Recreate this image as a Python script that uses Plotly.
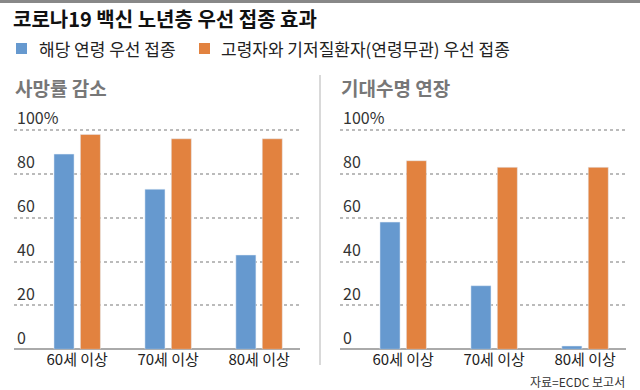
import plotly.graph_objects as go

categories = ["60세 이상", "70세 이상", "80세 이상"]
series_names = ["해당 연령 우선 접종", "고령자와 기저질환자(연령무관) 우선 접종"]
death_same_age = [89, 73, 43]
death_priority = [98, 96, 96]
life_same_age = [58, 29, 1.5]
life_priority = [86, 83, 83]
tick_vals = [0, 20, 40, 60, 80, 100]
tick_labels = ["0", "20", "40", "60", "80", "100%"]

BLUE = "#6699CF"
ORANGE = "#E2823F"
FONT = "Noto Sans CJK KR"

fig = go.Figure()
fig.add_trace(go.Bar(x=categories, y=death_same_age, name=series_names[0],
                     marker_color=BLUE, xaxis="x", yaxis="y"))
fig.add_trace(go.Bar(x=categories, y=death_priority, name=series_names[1],
                     marker_color=ORANGE, xaxis="x", yaxis="y"))
fig.add_trace(go.Bar(x=categories, y=life_same_age, name=series_names[0],
                     marker_color=BLUE, xaxis="x2", yaxis="y2"))
fig.add_trace(go.Bar(x=categories, y=life_priority, name=series_names[1],
                     marker_color=ORANGE, xaxis="x2", yaxis="y2"))

W, H = 640, 390
ytop_val = 112
ydom = [1 - 349.3 / H, 1 - (349.3 - ytop_val * 2.193) / H]

xcommon = dict(type="category", range=[-0.695, 2.45], showgrid=False,
               showline=False, ticks="", zeroline=False,
               tickfont=dict(family=FONT, size=15, color="#222"))
ycommon = dict(range=[0, ytop_val], tickvals=tick_vals, ticktext=tick_labels,
               ticklabelposition="inside top", showgrid=True,
               gridcolor="#BBBBBB", griddash="dot", gridwidth=1.5,
               zeroline=True, zerolinecolor="#AAAAAA", zerolinewidth=2,
               showline=False, ticks="",
               tickfont=dict(family=FONT, size=16, color="#333"))

legend_items = [
    (16 / W, 37 / W, BLUE, series_names[0]),
    (199 / W, 219 / W, ORANGE, series_names[1]),
]
shapes = [
    dict(type="line", xref="paper", yref="paper", x0=0, x1=1,
         y0=1 - 1.5 / H, y1=1 - 1.5 / H, line=dict(color="#888888", width=3)),
    dict(type="line", xref="paper", yref="paper", x0=0.5, x1=0.5,
         y0=1 - 365 / H, y1=1 - 75 / H, line=dict(color="#CCCCCC", width=1.5)),
]
annotations = [
    dict(text="<b>사망률 감소</b>", xref="paper", yref="paper",
         x=13 / W, y=1 - 87 / H, xanchor="left", yanchor="middle",
         showarrow=False, font=dict(family=FONT, size=19, color="#777777")),
    dict(text="<b>기대수명 연장</b>", xref="paper", yref="paper",
         x=339 / W, y=1 - 87 / H, xanchor="left", yanchor="middle",
         showarrow=False, font=dict(family=FONT, size=19, color="#777777")),
    dict(text="자료=ECDC 보고서", xref="paper", yref="paper",
         x=627 / W, y=1 - 381 / H, xanchor="right", yanchor="middle",
         showarrow=False, font=dict(family=FONT, size=12, color="#333")),
]
for sx, tx, col, label in legend_items:
    shapes.append(dict(type="rect", xref="paper", yref="paper",
                       x0=sx, x1=sx + 11 / W, y0=1 - 54 / H, y1=1 - 43 / H,
                       fillcolor=col, line_width=0))
    annotations.append(dict(text=label, xref="paper", yref="paper",
                            x=tx, y=1 - 48 / H, xanchor="left", yanchor="middle",
                            showarrow=False,
                            font=dict(family=FONT, size=17, color="#222")))

fig.update_layout(
    width=W, height=H,
    margin=dict(l=0, r=0, t=0, b=0),
    paper_bgcolor="white", plot_bgcolor="white",
    barmode="group", bargap=0.42, bargroupgap=0.24,
    font=dict(family=FONT),
    showlegend=False,
    xaxis=dict(domain=[14 / W, 300 / W], anchor="y", **xcommon),
    yaxis=dict(domain=ydom, anchor="x", **ycommon),
    xaxis2=dict(domain=[340 / W, 626 / W], anchor="y2", **xcommon),
    yaxis2=dict(domain=ydom, anchor="x2", **ycommon),
    title=dict(text="<b>코로나19 백신 노년층 우선 접종 효과</b>",
               x=13 / W, xanchor="left", y=1 - 20 / H, yanchor="middle",
               font=dict(family=FONT, size=20, color="#111")),
    shapes=shapes,
    annotations=annotations,
)

fig.write_html("out.html", config={"displayModeBar": False},
               post_script="document.body.style.margin='0';")
